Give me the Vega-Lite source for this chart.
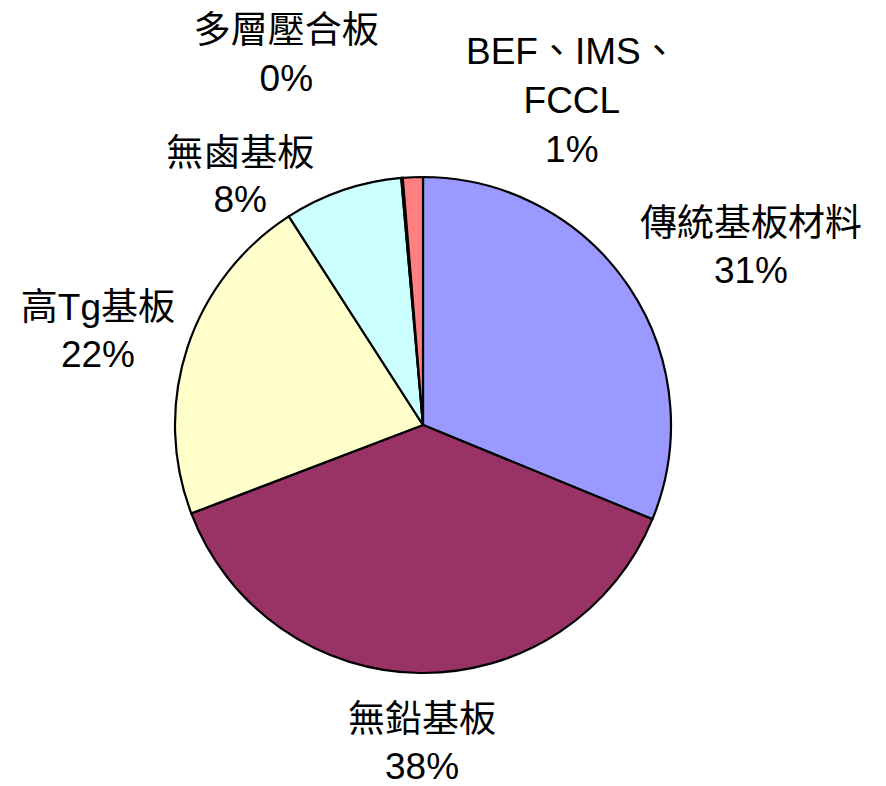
{
  "$schema": "https://vega.github.io/schema/vega-lite/v6.json",
  "autosize": {"type": "none"},
  "padding": {"left": 0, "top": 64, "right": 40, "bottom": 0},
  "width": 846,
  "height": 722,
  "background": "white",
  "config": {"view": {"stroke": null}},
  "data": {
    "values": [
      {"cat": "傳統基板材料", "pct": 31.2, "label": "傳統基板材料\n31%", "ord": 1},
      {"cat": "無鉛基板", "pct": 38.0, "label": "無鉛基板\n38%", "ord": 2},
      {"cat": "高Tg基板", "pct": 21.7, "label": "高Tg基板\n22%", "ord": 3},
      {"cat": "無鹵基板", "pct": 7.7, "label": "無鹵基板\n8%", "ord": 4},
      {"cat": "多層壓合板", "pct": 0.1, "label": "多層壓合板\n0%", "ord": 5},
      {"cat": "BEF、IMS、FCCL", "pct": 1.3, "label": "BEF、IMS、\nFCCL\n1%", "ord": 6}
    ]
  },
  "encoding": {
    "theta": {"field": "pct", "type": "quantitative", "stack": true},
    "order": {"field": "ord", "type": "quantitative"}
  },
  "layer": [
    {
      "mark": {"type": "arc", "radius": 248, "stroke": "black", "strokeWidth": 2.2},
      "encoding": {
        "color": {
          "field": "cat",
          "type": "nominal",
          "scale": {
            "domain": ["傳統基板材料", "無鉛基板", "高Tg基板", "無鹵基板", "多層壓合板", "BEF、IMS、FCCL"],
            "range": ["#9999FF", "#993366", "#FFFFCC", "#CCFFFF", "#660066", "#FF8080"]
          },
          "legend": null
        }
      }
    },
    {
      "mark": {"type": "text", "radius": 372, "dx": 19, "dy": 7, "fontSize": 37, "lineHeight": 47, "font": "Liberation Sans, Arial, Noto Sans CJK TC", "align": "center", "baseline": "middle", "lineBreak": "\n", "color": "black"},
      "encoding": {"text": {"condition": {"test": "datum.cat === '傳統基板材料'", "field": "label"}, "value": ""}}
    },
    {
      "mark": {"type": "text", "radius": 317, "dx": 3, "dy": -21, "fontSize": 37, "lineHeight": 47, "font": "Liberation Sans, Arial, Noto Sans CJK TC", "align": "center", "baseline": "middle", "lineBreak": "\n", "color": "black"},
      "encoding": {"text": {"condition": {"test": "datum.cat === '無鉛基板'", "field": "label"}, "value": ""}}
    },
    {
      "mark": {"type": "text", "radius": 339, "dx": -3, "dy": -10, "fontSize": 37, "lineHeight": 47, "font": "Liberation Sans, Arial, Noto Sans CJK TC", "align": "center", "baseline": "middle", "lineBreak": "\n", "color": "black"},
      "encoding": {"text": {"condition": {"test": "datum.cat === '高Tg基板'", "field": "label"}, "value": ""}}
    },
    {
      "mark": {"type": "text", "radius": 308, "dx": -83, "dy": 21, "fontSize": 37, "lineHeight": 46, "font": "Liberation Sans, Arial, Noto Sans CJK TC", "align": "center", "baseline": "middle", "lineBreak": "\n", "color": "black"},
      "encoding": {"text": {"condition": {"test": "datum.cat === '無鹵基板'", "field": "label"}, "value": ""}}
    },
    {
      "mark": {"type": "text", "radius": 374, "dx": -105, "dy": -20, "fontSize": 37, "lineHeight": 48, "font": "Liberation Sans, Arial, Noto Sans CJK TC", "align": "center", "baseline": "middle", "lineBreak": "\n", "color": "black"},
      "encoding": {"text": {"condition": {"test": "datum.cat === '多層壓合板'", "field": "label"}, "value": ""}}
    },
    {
      "mark": {"type": "text", "radius": 322, "dx": 162, "dy": -50, "fontSize": 37, "lineHeight": 49, "font": "Liberation Sans, Arial, Noto Sans CJK TC", "align": "center", "baseline": "middle", "lineBreak": "\n", "color": "black"},
      "encoding": {"text": {"condition": {"test": "datum.cat === 'BEF、IMS、FCCL'", "field": "label"}, "value": ""}}
    }
  ]
}
